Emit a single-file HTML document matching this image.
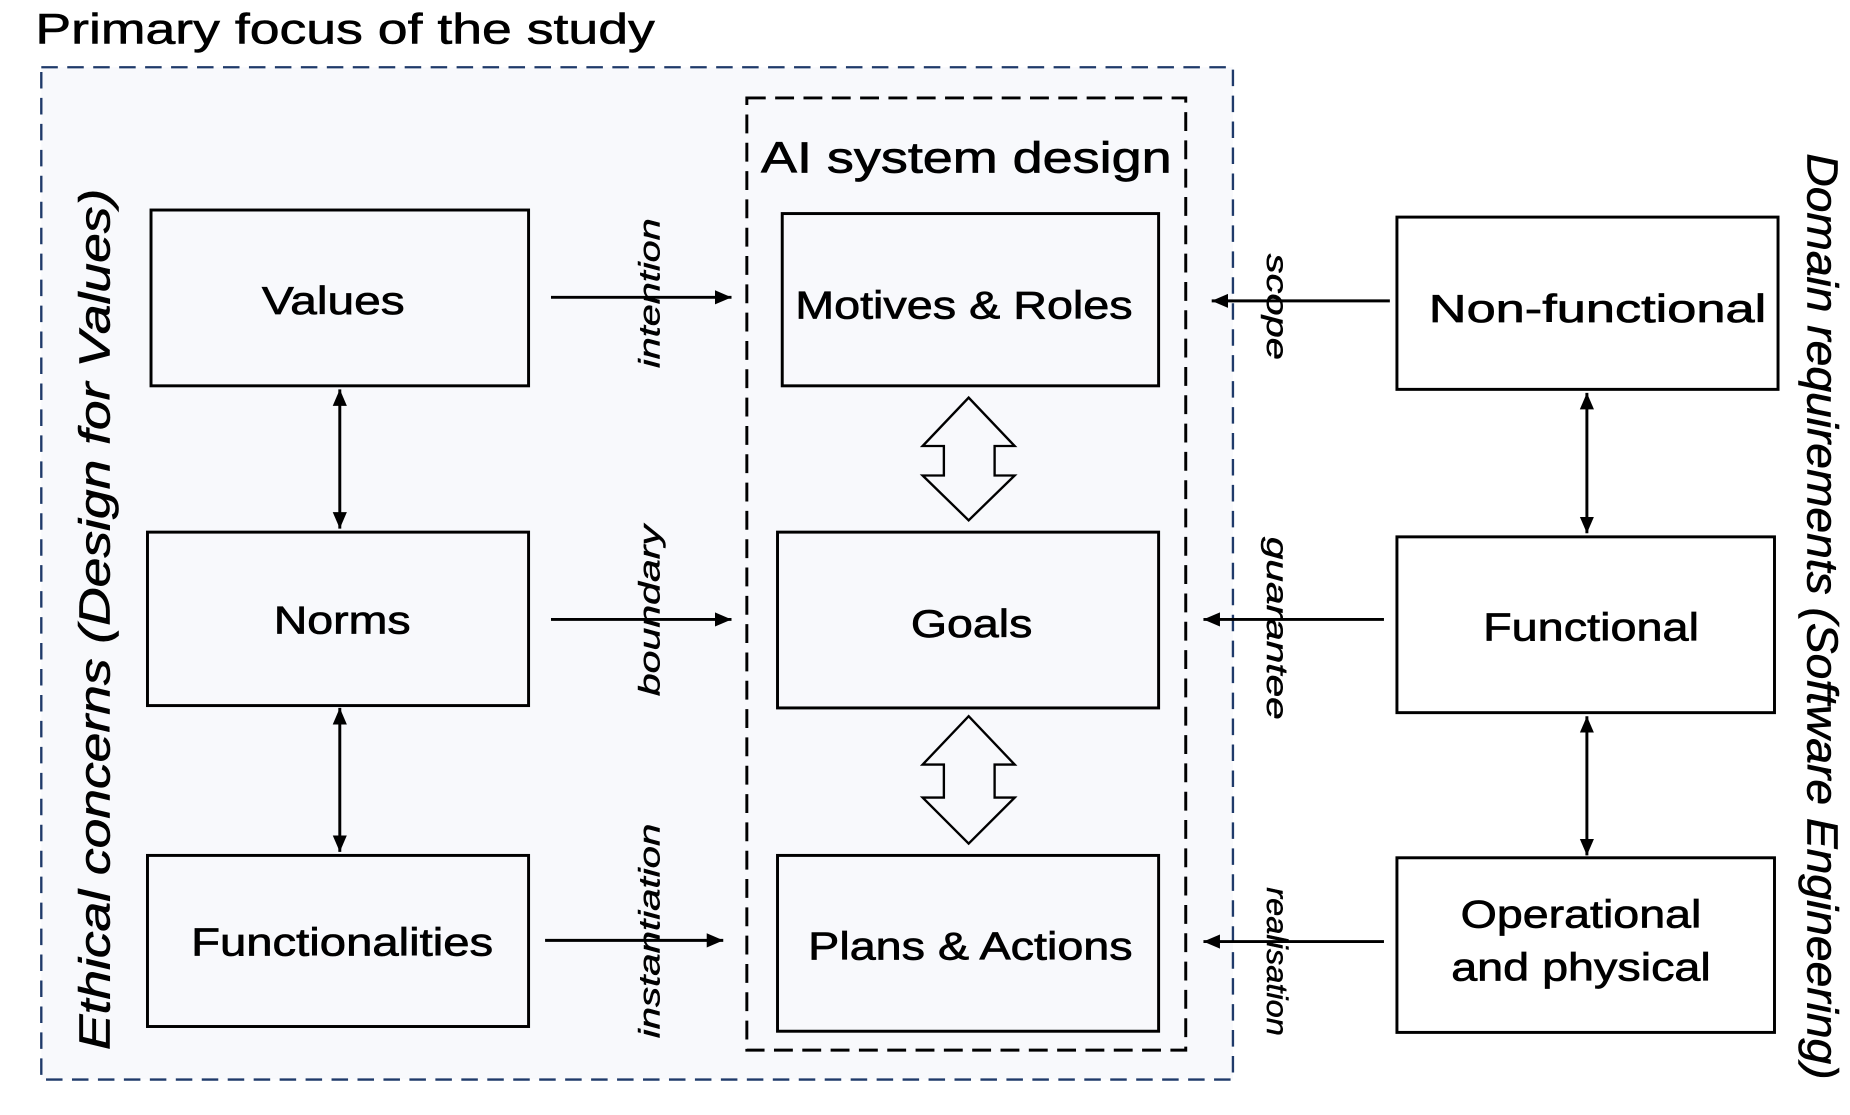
<!DOCTYPE html>
<html><head><meta charset="utf-8"><style>
html,body{margin:0;padding:0;background:#fff;}
svg{display:block;}
text{font-family:"Liberation Sans",Arial,sans-serif;fill:#000;}
</style></head><body>
<svg width="1850" height="1115" viewBox="0 0 1568 945" preserveAspectRatio="none" xmlns="http://www.w3.org/2000/svg">
<defs>
<marker id="ah2" markerWidth="14" markerHeight="14" refX="14" refY="7" orient="auto-start-reverse" markerUnits="userSpaceOnUse">
<path d="M0,1 L14,7 L0,13 z" fill="#000"/>
</marker>
</defs>
<rect width="1568" height="945" fill="#fff"/>
<text x="30" y="37" font-size="36" textLength="525" lengthAdjust="spacingAndGlyphs" stroke="#000" stroke-width="0.5">Primary focus of the study</text>
<rect x="35" y="57" width="1010" height="858" fill="#f8f9fc" stroke="#1f3a6a" stroke-width="2" stroke-dasharray="14,8"/>
<rect x="633" y="83" width="372" height="807" fill="none" stroke="#000" stroke-width="2.5" stroke-dasharray="16,8"/>
<text x="645" y="146" font-size="37" textLength="348" lengthAdjust="spacingAndGlyphs" stroke="#000" stroke-width="0.6">AI system design</text>

<g fill="none" stroke="#000" stroke-width="2.5">
<rect x="128" y="178" width="320" height="149"/>
<rect x="125" y="451" width="323" height="147"/>
<rect x="125" y="725" width="323" height="145"/>
<rect x="663" y="181" width="319" height="146"/>
<rect x="659" y="451" width="323" height="149"/>
<rect x="659" y="725" width="323" height="149"/>
<rect x="1184" y="184" width="323" height="146" fill="#fff"/>
<rect x="1184" y="455" width="320" height="149" fill="#fff"/>
<rect x="1184" y="727" width="320" height="148" fill="#fff"/>
</g>
<g font-size="33" stroke="#000" stroke-width="0.6" lengthAdjust="spacingAndGlyphs">
<text x="222" y="266" textLength="121" lengthAdjust="spacingAndGlyphs">Values</text>
<text x="232" y="537" textLength="116" lengthAdjust="spacingAndGlyphs">Norms</text>
<text x="162" y="810" textLength="256" lengthAdjust="spacingAndGlyphs">Functionalities</text>
<text x="674" y="270" textLength="286" lengthAdjust="spacingAndGlyphs">Motives &amp; Roles</text>
<text x="772" y="540" textLength="103" lengthAdjust="spacingAndGlyphs">Goals</text>
<text x="685" y="813" textLength="275" lengthAdjust="spacingAndGlyphs">Plans &amp; Actions</text>
<text x="1211" y="273" textLength="286" lengthAdjust="spacingAndGlyphs">Non-functional</text>
<text x="1257" y="543" textLength="183" lengthAdjust="spacingAndGlyphs">Functional</text>
<text x="1238" y="786" textLength="204" lengthAdjust="spacingAndGlyphs">Operational</text>
<text x="1230" y="831" textLength="220" lengthAdjust="spacingAndGlyphs">and physical</text>
</g>

<g stroke="#000" stroke-width="2.5">
<line x1="467" y1="252" x2="620" y2="252" marker-end="url(#ah2)"/>
<line x1="467" y1="525" x2="620" y2="525" marker-end="url(#ah2)"/>
<line x1="462" y1="797" x2="613" y2="797" marker-end="url(#ah2)"/>
<line x1="1178" y1="255" x2="1027" y2="255" marker-end="url(#ah2)"/>
<line x1="1173" y1="525" x2="1020" y2="525" marker-end="url(#ah2)"/>
<line x1="1173" y1="798" x2="1020" y2="798" marker-end="url(#ah2)"/>
<line x1="288" y1="330" x2="288" y2="448" marker-start="url(#ah2)" marker-end="url(#ah2)"/>
<line x1="288" y1="600" x2="288" y2="722" marker-start="url(#ah2)" marker-end="url(#ah2)"/>
<line x1="1345" y1="333" x2="1345" y2="452" marker-start="url(#ah2)" marker-end="url(#ah2)"/>
<line x1="1345" y1="607" x2="1345" y2="725" marker-start="url(#ah2)" marker-end="url(#ah2)"/>
</g>

<g fill="#f8f9fc" stroke="#000" stroke-width="2">
<path d="M821,337 L860,378 L843,378 L843,403 L860,403 L821,441 L782,403 L800,403 L800,378 L782,378 Z"/>
<path d="M821,607 L860,648 L843,648 L843,676 L860,676 L821,715 L782,676 L800,676 L800,648 L782,648 Z"/>
</g>

<g font-size="25" font-style="italic" stroke="#000" stroke-width="0.4">
<text transform="translate(559,312) rotate(-90)" textLength="127" lengthAdjust="spacingAndGlyphs">intention</text>
<text transform="translate(559,590) rotate(-90)" textLength="145" lengthAdjust="spacingAndGlyphs">boundary</text>
<text transform="translate(559,880) rotate(-90)" textLength="182" lengthAdjust="spacingAndGlyphs">instantiation</text>
<text transform="translate(1074,215) rotate(90)" textLength="90" lengthAdjust="spacingAndGlyphs">scope</text>
<text transform="translate(1074,455) rotate(90)" textLength="155" lengthAdjust="spacingAndGlyphs">guarantee</text>
<text transform="translate(1074,752) rotate(90)" textLength="126" lengthAdjust="spacingAndGlyphs">realisation</text>
</g>
<g font-size="37" font-style="italic" stroke="#000" stroke-width="0.5">
<text transform="translate(93,890) rotate(-90)" textLength="730" lengthAdjust="spacingAndGlyphs">Ethical concerns (Design for Values)</text>
<text transform="translate(1532,130) rotate(90)" textLength="785" lengthAdjust="spacingAndGlyphs">Domain requirements (Software Engineering)</text>
</g>
</svg>
</body></html>
